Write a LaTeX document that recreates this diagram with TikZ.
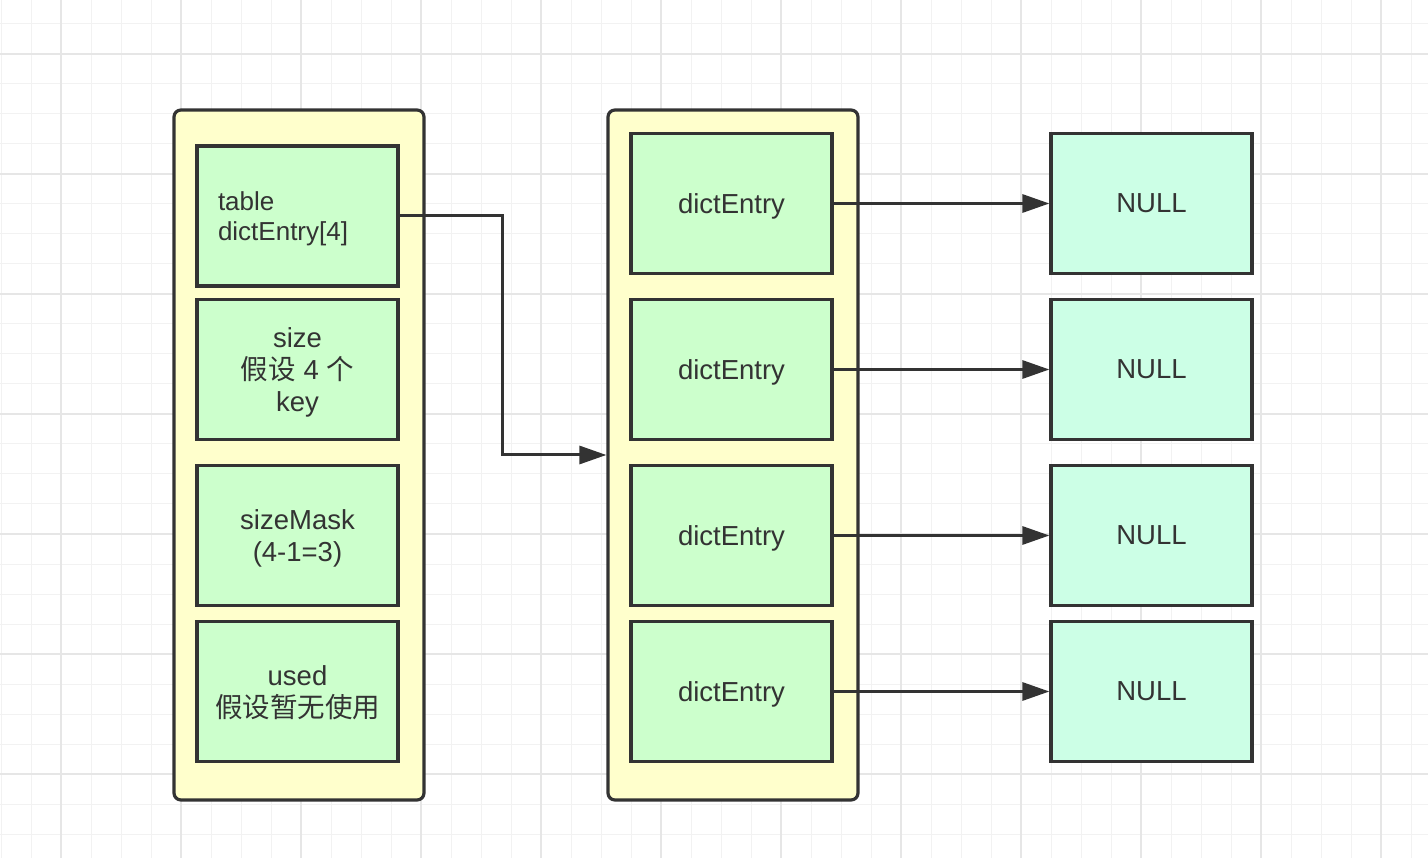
\documentclass[tikz,border=0pt]{standalone}
\usepackage{fontspec}
\setmainfont{Liberation Sans}
\newfontfamily\cjk{Noto Sans CJK SC}
\usetikzlibrary{arrows.meta}
\definecolor{ink}{HTML}{333333}
\definecolor{paleyellow}{HTML}{FFFFCC}
\definecolor{palegreen}{HTML}{CCFFCC}
\definecolor{palemint}{HTML}{CCFFE6}
\definecolor{gridminor}{HTML}{F2F2F2}
\definecolor{gridmajor}{HTML}{E6E6E6}
\tikzset{
  holder/.style={draw=ink, line width=3.2pt, fill=paleyellow, rounded corners=7pt,
    minimum width=250, minimum height=690, inner sep=0pt},
  field/.style={draw=ink, line width=3.2pt, fill=palegreen, minimum width=201,
    minimum height=140, inner sep=0pt, text=ink, align=center, text depth=0pt,
    font=\fontsize{27.5}{32}\selectfont},
  nullbox/.style={field, fill=palemint},
  link/.style={draw=ink, line width=3pt, -{Triangle[length=27pt, width=18pt]}},
}
\begin{document}
\begin{tikzpicture}[x=1pt, y=-1pt]
  % canvas and background grid
  \fill[white] (0,0) rectangle (1428,858);
  \useasboundingbox (0,0) rectangle (1428,858);
  \foreach \x in {1,31,...,1427} \draw[gridminor, line width=1pt] (\x,0) -- (\x,858);
  \foreach \y in {24,54,...,858} \draw[gridminor, line width=1pt] (0,\y) -- (1428,\y);
  \foreach \x in {61,181,...,1427} \draw[gridmajor, line width=1.5pt] (\x,0) -- (\x,858);
  \foreach \y in {54,174,...,858} \draw[gridmajor, line width=1.5pt] (0,\y) -- (1428,\y);

  % dict header structure
  \node[holder] (hdr) at (299,455) {};
  \node[field, text width=159, align=left, minimum width=0pt, inner xsep=21pt,
    text depth=30pt, font=\fontsize{26}{30}\selectfont] (tbl) at (297.5,216) {table\\dictEntry[4]};
  \node[field] (size) at (297.5,369.5) {size\\{\cjk 假设} 4 {\cjk 个}\\key};
  \node[field] (mask) at (297.5,535.5) {sizeMask\\(4-1=3)};
  \node[field] (used) at (297.5,691.5) {used\\{\cjk 假设暂无使用}};

  % hash table array
  \node[holder] (arr) at (733,455) {};
  \foreach \i/\y in {1/203.5, 2/369.5, 3/535.5, 4/691.5} {
    \node[field] (e\i) at (731.5,\y) {dictEntry};
    \node[nullbox] (n\i) at (1151.5,\y) {NULL};
    \draw[link] (e\i.east) -- (n\i.west);
  }

  % table pointer
  \draw[link] (tbl.east) -- ++(103,0) |- (arr.west);
\end{tikzpicture}
\end{document}
